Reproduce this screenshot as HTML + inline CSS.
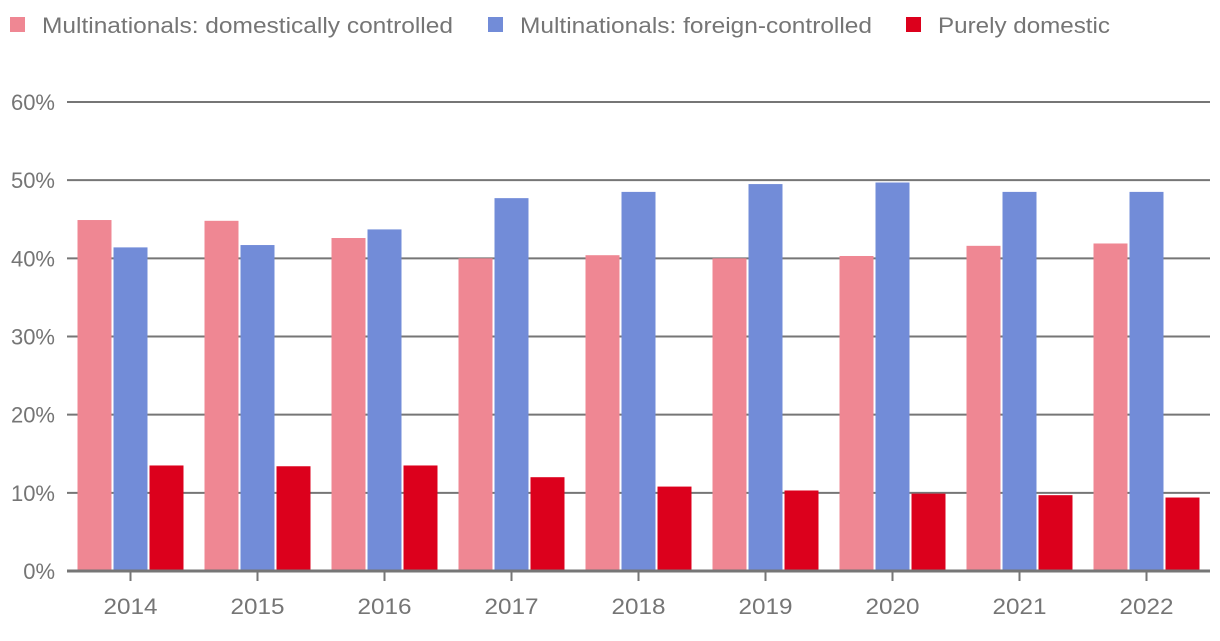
<!DOCTYPE html>
<html><head><meta charset="utf-8"><style>
body{margin:0;background:#fff;font-family:"Liberation Sans",sans-serif;}
svg text{font-family:"Liberation Sans",sans-serif;fill:#757575;font-size:22px;}
</style></head><body>
<svg width="1220" height="636">
<g>
<g><rect x="10" y="17" width="15" height="15" fill="#ef8793"/><text x="42" y="33" textLength="411" lengthAdjust="spacingAndGlyphs">Multinationals: domestically controlled</text></g>
<g><rect x="488" y="17" width="15" height="15" fill="#728cd8"/><text x="520" y="33" textLength="352" lengthAdjust="spacingAndGlyphs">Multinationals: foreign-controlled</text></g>
<g><rect x="906" y="17" width="15" height="15" fill="#dc001c"/><text x="938" y="33" textLength="172" lengthAdjust="spacingAndGlyphs">Purely domestic</text></g>
</g>
<g id="grid"></g><g id="bars"></g><g id="axes"></g>
</svg>
<script>
const years=["2014","2015","2016","2017","2018","2019","2020","2021","2022"];
const domesticMNE=[44.9,44.8,42.6,40.0,40.4,40.0,40.3,41.6,41.9];
const foreignMNE=[41.4,41.7,43.7,47.7,48.5,49.5,49.7,48.5,48.5];
const purelyDomestic=[13.5,13.4,13.5,12.0,10.8,10.3,9.9,9.7,9.4];
const yTicks=[0,10,20,30,40,50,60];
const NS="http://www.w3.org/2000/svg";
const x0=67,x1=1210,y0=571,y60=102;
const band=(x1-x0)/years.length;
const yS=v=>y0-(v/60)*(y0-y60);
const xC=i=>x0+band*(i+0.5);
function mk(t,a,p){const e=document.createElementNS(NS,t);for(const k in a)e.setAttribute(k,a[k]);p.appendChild(e);return e;}
const grid=document.getElementById('grid'),bars=document.getElementById('bars'),axes=document.getElementById('axes');
yTicks.forEach(v=>{
 if(v>0){const l=mk('line',{x1:x0,x2:x1,y1:yS(v),y2:yS(v),stroke:'#767676','stroke-width':2},grid);
 
 }
 const t=mk('text',{x:55,y:yS(v)+8,'text-anchor':'end','font-size':23},axes);t.textContent=v+'%';
 
 
});
const series=[[domesticMNE,'#ef8793'],[foreignMNE,'#728cd8'],[purelyDomestic,'#dc001c']];
const bw=34,gap=2;
years.forEach((yr,i)=>{
 const c=xC(i);
 series.forEach(([arr,col],s)=>{
  const x=c-(bw*1.5+gap)+s*(bw+gap);
  const r=mk('rect',{x:x,y:yS(arr[i]),width:bw,height:y0-yS(arr[i]),fill:col},bars);
  
  
 });
 mk('line',{x1:c,x2:c,y1:y0,y2:y0+10,stroke:'#767676','stroke-width':2},axes);
 const t=mk('text',{x:c,y:614,'text-anchor':'middle','font-size':23,textLength:54,lengthAdjust:'spacingAndGlyphs'},axes);t.textContent=yr;
 
 
});
const ax=mk('line',{x1:x0,x2:x1,y1:y0,y2:y0,stroke:'#767676','stroke-width':3},axes);


</script>
</body></html>
